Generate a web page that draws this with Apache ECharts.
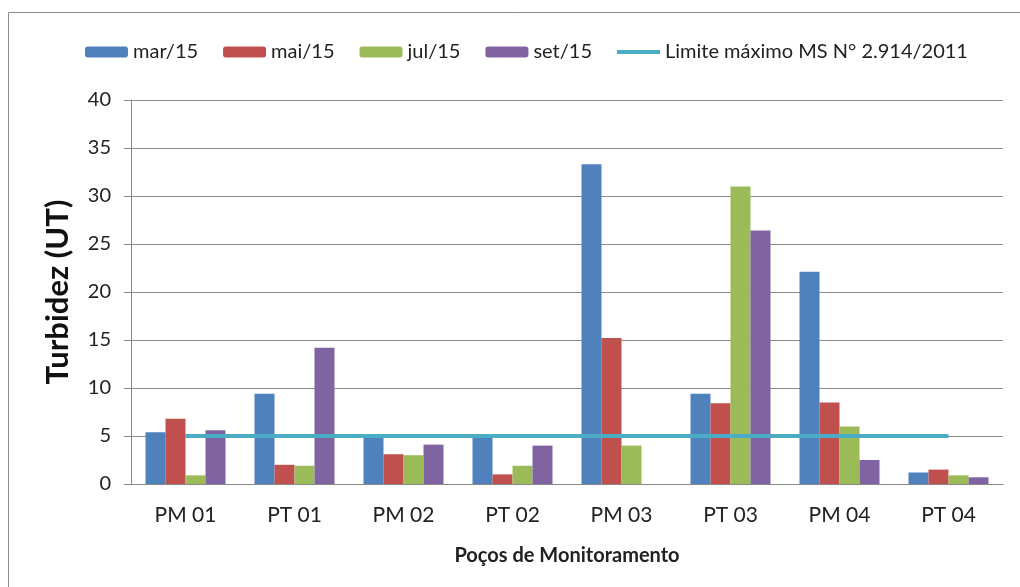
<!DOCTYPE html>
<html lang="pt">
<head>
<meta charset="UTF-8">
<title>Turbidez</title>
<script src="https://cdn.jsdelivr.net/npm/echarts@6/dist/echarts.min.js"></script>
</head>
<body style="margin:0;background:#fff;">
<div id="chart" style="width:1020px;height:587px;"></div>
<script>
// dados
var pocos = ['PM 01', 'PT 01', 'PM 02', 'PT 02', 'PM 03', 'PT 03', 'PM 04', 'PT 04'];
var mar15 = [5.4, 9.4, 5.0, 5.0, 33.3, 9.4, 22.1, 1.2];
var mai15 = [6.8, 2.0, 3.1, 1.0, 15.2, 8.4, 8.5, 1.5];
var jul15 = [0.9, 1.9, 3.0, 1.9, 4.0, 31.0, 6.0, 0.9];
var set15 = [5.6, 14.2, 4.1, 4.0, 0, 26.4, 2.5, 0.7];
var limite = [5, 5, 5, 5, 5, 5, 5, 5];
var nomeLimite = 'Limite máximo MS N° 2.914/2011';

var chart = echarts.init(document.getElementById('chart'));
var fonte = 'Lato';

function barra(nome, dados, cor) {
    return {
        name: nome, type: 'bar', data: dados,
        barWidth: 20, barGap: '0%',
        itemStyle: { color: cor }
    };
}

chart.setOption({
    animation: false,
    textStyle: { fontFamily: fonte },
    graphic: [{
        type: 'rect',
        shape: { x: 8.5, y: 12.5, width: 1030, height: 600 },
        style: { fill: 'none', stroke: '#8c8c8c', lineWidth: 1 }
    }],
    legend: {
        top: 37, left: 80,
        itemWidth: 43, itemHeight: 11, itemGap: 25,
        textStyle: { fontSize: 20, color: '#222', fontFamily: fonte },
        data: ['mar/15', 'mai/15', 'jul/15', 'set/15',
            { name: nomeLimite, icon: 'path://M0,0 L42,0 L42,4 L0,4 Z' }]
    },
    grid: { left: 131, right: 17, top: 100, bottom: 103 },
    xAxis: {
        type: 'category', data: pocos,
        name: 'Poços de Monitoramento', nameLocation: 'middle', nameGap: 62,
        nameTextStyle: { fontSize: 20, fontWeight: 'bold', color: '#222', fontFamily: fonte },
        axisLine: { lineStyle: { color: '#888' } },
        axisTick: { length: 8, lineStyle: { color: '#888' } },
        axisLabel: { fontSize: 21, color: '#222', margin: 21 }
    },
    yAxis: {
        type: 'value', min: 0, max: 40, interval: 5,
        name: 'Turbidez (UT)', nameLocation: 'middle', nameGap: 58, nameRotate: 90,
        nameTextStyle: { fontSize: 31, fontWeight: 'bold', color: '#111', fontFamily: fonte },
        axisLine: { show: true, lineStyle: { color: '#888' } },
        axisTick: { show: true, length: 7, lineStyle: { color: '#888' } },
        splitLine: { lineStyle: { color: '#8c8c8c' } },
        axisLabel: { fontSize: 20, color: '#222', margin: 20 }
    },
    series: [
        barra('mar/15', mar15, '#4f81bd'),
        barra('mai/15', mai15, '#c0504d'),
        barra('jul/15', jul15, '#9bbb59'),
        barra('set/15', set15, '#8064a2'),
        {
            name: nomeLimite, type: 'line', data: limite,
            symbol: 'none', z: 5,
            itemStyle: { color: '#4bacc6' },
            lineStyle: { color: '#4bacc6', width: 4 }
        }
    ]
});
</script>
</body>
</html>
